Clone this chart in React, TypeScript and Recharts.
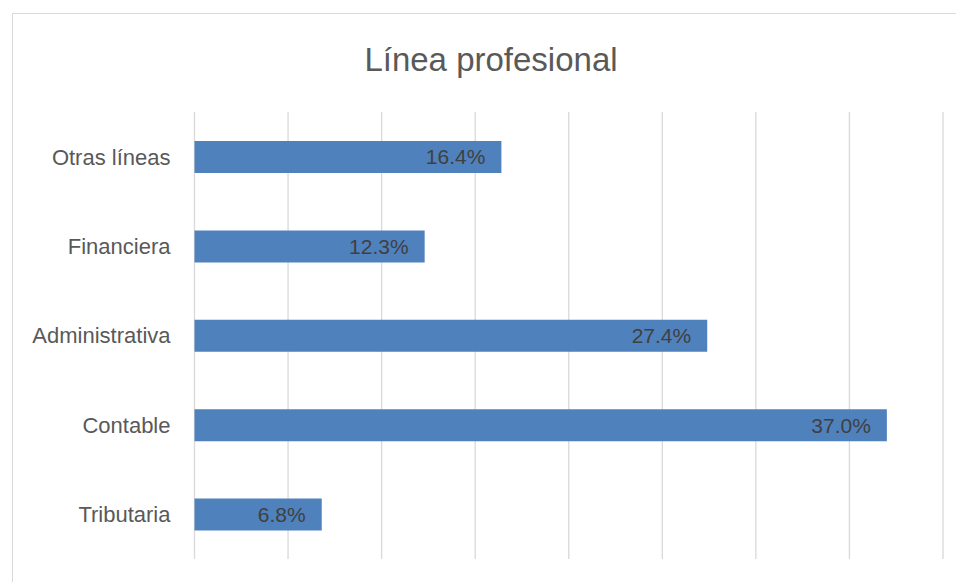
import { BarChart, Bar, XAxis, YAxis, CartesianGrid, LabelList } from 'recharts'

const categories = ['Otras líneas', 'Financiera', 'Administrativa', 'Contable', 'Tributaria']
const shares = [16.4, 12.3, 27.4, 37.0, 6.8]
const xTicks = [0, 5, 10, 15, 20, 25, 30, 35, 40]

const data = categories.map((name, i) => ({ name, value: shares[i] }))

const FONT = '"Liberation Sans", Arial, sans-serif'

export default function App() {
    return (
        <div
            style={{
                position: 'fixed',
                left: 0,
                top: 0,
                width: 956,
                height: 582,
                overflow: 'hidden',
                background: '#fff',
                fontFamily: FONT,
            }}
        >
            <div
                style={{
                    position: 'absolute',
                    left: 12,
                    top: 13,
                    width: 980,
                    height: 620,
                    border: '1px solid #d9d9d9',
                }}
            />
            <div
                style={{
                    position: 'absolute',
                    left: 0,
                    top: 43,
                    width: 982,
                    textAlign: 'center',
                    fontSize: 33,
                    lineHeight: '33px',
                    color: '#595959',
                }}
            >
                Línea profesional
            </div>
            <div style={{ position: 'absolute', left: 0, top: 0 }}>
                <BarChart
                    width={956}
                    height={582}
                    data={data}
                    layout="vertical"
                    margin={{ top: 112, right: 13, bottom: 23, left: 0 }}
                    barSize={32}
                >
                    <CartesianGrid horizontal={false} stroke="#d9d9d9" strokeWidth={1.3} />
                    <XAxis type="number" domain={[0, 40]} ticks={xTicks} hide />
                    <YAxis
                        type="category"
                        dataKey="name"
                        width={194.5}
                        axisLine={false}
                        tickLine={false}
                        tickSize={0}
                        tickMargin={24}
                        tick={{ fill: '#595959', fontSize: 22, fontFamily: FONT }}
                    />
                    <Bar dataKey="value" fill="#4f81bd" isAnimationActive={false}>
                        <LabelList
                            dataKey="value"
                            position="insideRight"
                            offset={16}
                            fill="#404040"
                            fontSize={21}
                            fontFamily={FONT}
                            formatter={(v: number) => v.toFixed(1) + '%'}
                        />
                    </Bar>
                </BarChart>
            </div>
        </div>
    )
}
